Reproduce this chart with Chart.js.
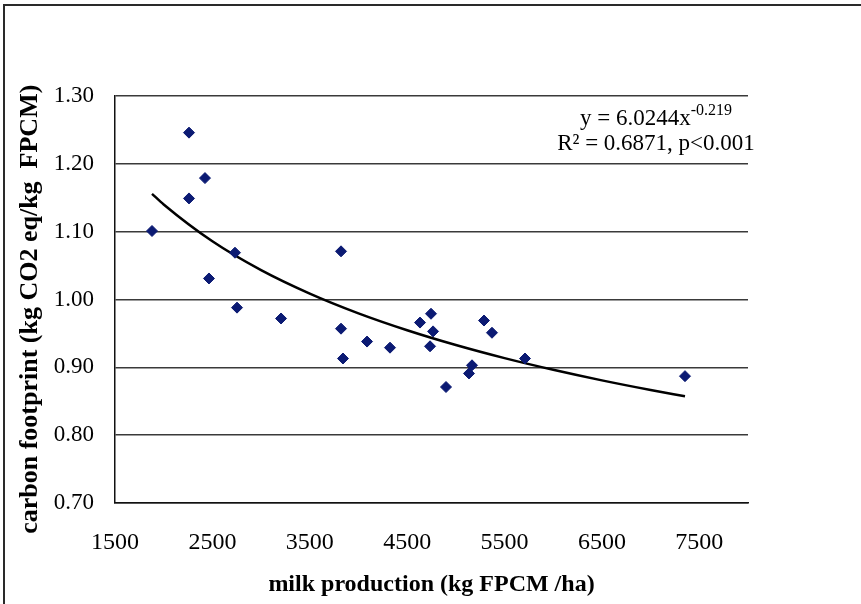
<!DOCTYPE html>
<html>
<head>
<meta charset="utf-8">
<script src="https://cdn.jsdelivr.net/npm/chart.js@4.4.1/dist/chart.umd.min.js"></script>
<style>
  html, body { margin: 0; padding: 0; background: #ffffff; }
  #wrap { width: 861px; height: 604px; position: relative; }
</style>
</head>
<body>
<div id="wrap"><canvas id="c" width="861" height="604"></canvas></div>
<script>
// ---- data ----
const milkProduction = [1880, 2260, 2260, 2424, 2465, 2732, 2753, 3205, 3821, 3821, 3841, 4088, 4324, 4632, 4745, 4766, 4735, 4899, 5135, 5166, 5289, 5371, 5710, 7353];
const carbonFootprint = [1.101, 1.246, 1.149, 1.179, 1.031, 1.069, 0.988, 0.972, 1.071, 0.957, 0.913, 0.938, 0.929, 0.966, 0.979, 0.953, 0.931, 0.871, 0.891, 0.903, 0.969, 0.951, 0.913, 0.887];
// power trend line
const trendX = [1880, 2000, 2500, 3000, 3500, 4000, 4500, 5000, 5500, 6000, 6500, 7000, 7353];
const trendY = [1.1558, 1.1401, 1.0858, 1.0433, 1.0087, 0.9796, 0.9547, 0.9329, 0.9136, 0.8964, 0.8808, 0.8666, 0.8573];
const xTicks = [1500, 2500, 3500, 4500, 5500, 6500, 7500];
const yTicks = [0.70, 0.80, 0.90, 1.00, 1.10, 1.20, 1.30];
const xTitle = 'milk production (kg FPCM /ha)';
const yTitle = 'carbon footprint (kg CO2 eq/kg  FPCM)   ';
const eqMain = 'y = 6.0244x';
const eqExp = '-0.219';
const eqR2 = 'R\u00B2 = 0.6871, p<0.001';

const points = milkProduction.map((x, i) => ({x: x, y: carbonFootprint[i]}));
const trend = trendX.map((x, i) => ({x: x, y: trendY[i]}));

const framePlugin = {
  id: 'frame',
  beforeDraw(chart) {
    const ctx = chart.ctx;
    ctx.save();
    ctx.fillStyle = '#ffffff';
    ctx.fillRect(0, 0, chart.width, chart.height);
    ctx.strokeStyle = '#2a2a2a';
    ctx.lineWidth = 2;
    ctx.beginPath();
    ctx.moveTo(4, chart.height + 2);
    ctx.lineTo(4, 5);
    ctx.lineTo(chart.width + 2, 5);
    ctx.stroke();
    ctx.restore();
  }
};

const equationPlugin = {
  id: 'equation',
  afterDraw(chart) {
    const ctx = chart.ctx;
    const a = chart.chartArea;
    ctx.save();
    ctx.fillStyle = '#000000';
    ctx.textBaseline = 'alphabetic';
    const mainFont = '23px "Liberation Serif", "Times New Roman", serif';
    const supFont = '16px "Liberation Serif", "Times New Roman", serif';
    ctx.font = mainFont;
    const w1 = ctx.measureText(eqMain).width;
    ctx.font = supFont;
    const w2 = ctx.measureText(eqExp).width;
    const cx = a.right - 92;
    const y1 = a.top + 29;
    const start = cx - (w1 + w2) / 2;
    ctx.font = mainFont;
    ctx.textAlign = 'left';
    ctx.fillText(eqMain, start, y1);
    ctx.font = supFont;
    ctx.fillText(eqExp, start + w1, y1 - 10);
    ctx.font = mainFont;
    ctx.textAlign = 'center';
    ctx.fillText(eqR2, cx, y1 + 25);
    ctx.restore();
  }
};

new Chart(document.getElementById('c'), {
  type: 'scatter',
  data: {
    datasets: [
      {
        label: 'farms',
        data: points,
        pointStyle: 'rectRot',
        pointRadius: 5.5,
        pointHoverRadius: 5.5,
        backgroundColor: '#0b1a73',
        borderColor: '#0b1a73',
        borderWidth: 1,
        showLine: false,
        order: 1
      },
      {
        label: 'trend',
        data: trend,
        showLine: true,
        pointRadius: 0,
        borderColor: '#000000',
        borderWidth: 2.5,
        fill: false,
        cubicInterpolationMode: 'monotone',
        order: 2
      }
    ]
  },
  options: {
    responsive: false,
    animation: false,
    devicePixelRatio: 1,
    layout: { padding: { left: 0, top: 96, right: 113, bottom: 0 } },
    plugins: {
      legend: { display: false },
      tooltip: { enabled: false },
      title: { display: false }
    },
    scales: {
      x: {
        type: 'linear',
        position: 'bottom',
        min: 1500,
        max: 8000,
        afterBuildTicks(scale) { scale.ticks = xTicks.map(v => ({value: v})); },
        afterFit(scale) { scale.height = 101; },
        ticks: {
          padding: 25,
          maxRotation: 0,
          autoSkip: false,
          color: '#000000',
          font: { family: '"Liberation Serif", "Times New Roman", serif', size: 24 },
          callback: (v) => String(v)
        },
        grid: { display: false, drawTicks: false },
        border: { display: true, color: '#111111', width: 1.5 },
        title: {
          display: true,
          text: xTitle,
          color: '#000000',
          font: { family: '"Liberation Serif", "Times New Roman", serif', size: 24, weight: 'bold' },
          padding: { top: 0, bottom: 5 }
        }
      },
      y: {
        type: 'linear',
        position: 'left',
        min: 0.70,
        max: 1.30,
        afterBuildTicks(scale) { scale.ticks = yTicks.map(v => ({value: v})); },
        afterFit(scale) { scale.width = 115; },
        ticks: {
          padding: 21,
          autoSkip: false,
          color: '#000000',
          font: { family: '"Liberation Serif", "Times New Roman", serif', size: 23 },
          callback: (v) => Number(v).toFixed(2)
        },
        grid: { display: true, drawTicks: false, color: '#3a3a3a', lineWidth: 1.5 },
        border: { display: true, color: '#111111', width: 1.5 },
        title: {
          display: true,
          text: yTitle,
          color: '#000000',
          font: { family: '"Liberation Serif", "Times New Roman", serif', size: 26, weight: 'bold' },
          padding: { top: 15, bottom: 0 }
        }
      }
    }
  },
  plugins: [framePlugin, equationPlugin]
});
</script>
</body>
</html>
